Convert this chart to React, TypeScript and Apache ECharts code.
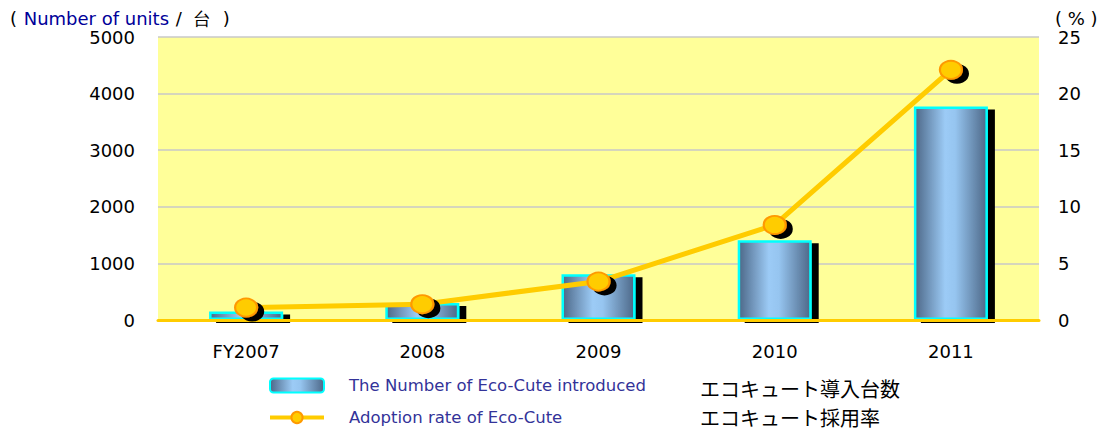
import React, { useEffect, useRef } from "react";
import * as echarts from "echarts";

const categories = ["FY2007", "2008", "2009", "2010", "2011"];
const unitsIntroduced = [150, 300, 810, 1410, 3770];
const adoptionRate = [1.1, 1.4, 3.4, 8.4, 22.1];
const leftTicks = { min: 0, max: 5000, interval: 1000 };
const rightTicks = { min: 0, max: 25, interval: 5 };
const barName = "The Number of Eco-Cute introduced";
const lineName = "Adoption rate of Eco-Cute";
const jpBarName = "エコキュート導入台数";
const jpLineName = "エコキュート採用率";

export default function App() {
  const ref = useRef<HTMLDivElement>(null);
  useEffect(() => {
    if (!ref.current) return;
    const chart = echarts.init(ref.current, null, { renderer: "svg" });
    const font = "DejaVu Sans, Arial, sans-serif";
    const barGrad = new echarts.graphic.LinearGradient(0, 0, 1, 0, [
      { offset: 0, color: "#4d6888" },
      { offset: 0.42, color: "#9ccbf6" },
      { offset: 0.56, color: "#96c5f0" },
      { offset: 1, color: "#4d6888" },
    ]);
    chart.setOption({
      animation: false,
      textStyle: { fontFamily: font },
      grid: {
        left: 158,
        right: 70,
        top: 37,
        bottom: 110,
        show: true,
        backgroundColor: "#FFFF99",
        borderWidth: 0,
      },
      legend: {
        orient: "vertical",
        left: 268,
        top: 377,
        padding: 0,
        itemGap: 15,
        itemWidth: 54,
        itemHeight: 14,
        data: [barName, lineName],
        itemStyle: { shadowBlur: 0, shadowOffsetX: 0, shadowOffsetY: 0, shadowColor: "rgba(0,0,0,0)" },
        lineStyle: { width: 4, color: "#FFCC00" },
        textStyle: {
          color: "#333399",
          fontSize: 16.5,
          fontFamily: font,
          padding: [0, 0, 0, 20],
        },
      },
      xAxis: {
        type: "category",
        data: categories,
        axisLine: { lineStyle: { color: "#FFCC00", width: 3 } },
        axisTick: { inside: true, length: 6, lineStyle: { color: "#FFCC00", width: 2 } },
        axisLabel: { color: "#000", fontSize: 18, margin: 22, fontFamily: font },
        z: 5,
      },
      yAxis: [
        {
          type: "value",
          min: leftTicks.min,
          max: leftTicks.max,
          interval: leftTicks.interval,
          axisLine: { show: false },
          axisTick: { show: false },
          splitLine: { lineStyle: { color: "#c8c8c8", width: 1.5 } },
          axisLabel: {
            color: "#000",
            fontSize: 18,
            margin: 23,
            fontFamily: font,
            formatter: (v: number) => String(v),
          },
        },
        {
          type: "value",
          min: rightTicks.min,
          max: rightTicks.max,
          interval: rightTicks.interval,
          axisLine: { show: false },
          axisTick: { show: false },
          splitLine: { show: false },
          axisLabel: { color: "#000", fontSize: 18, margin: 19, fontFamily: font },
        },
      ],
      series: [
        {
          name: barName,
          type: "bar",
          data: unitsIntroduced,
          barWidth: "42%",
          itemStyle: {
            color: barGrad,
            borderColor: "#00FFFF",
            borderWidth: 2.5,
            shadowColor: "#000",
            shadowBlur: 0,
            shadowOffsetX: 7,
            shadowOffsetY: 3,
          },
          z: 2,
        },
        {
          name: lineName,
          type: "line",
          yAxisIndex: 1,
          data: adoptionRate,
          symbol: "circle",
          symbolSize: [22, 18],
          lineStyle: { color: "#FFCC00", width: 5 },
          itemStyle: {
            color: "#FFCC00",
            borderColor: "#FF9900",
            borderWidth: 2,
            shadowColor: "#000",
            shadowBlur: 0,
            shadowOffsetX: 6,
            shadowOffsetY: 4,
          },
          z: 10,
        },
      ],
      graphic: [
        {
          type: "text",
          left: 10,
          top: 9,
          style: {
            text: "{b|(}  {n|Number of units}  {b|/  台  )}",
            rich: {
              b: { fill: "#000", fontSize: 18, fontFamily: font },
              n: { fill: "#000099", fontSize: 18, fontFamily: font },
            },
          },
        },
        {
          type: "text",
          left: 1055,
          top: 9,
          style: { text: "( % )", fill: "#000", fontSize: 18, fontFamily: font },
        },
        {
          type: "text",
          x: 700,
          y: 388,
          style: {
            text: jpBarName,
            fill: "#000",
            fontSize: 20,
            fontFamily: "Noto Sans CJK JP",
            verticalAlign: "middle",
          },
        },
        {
          type: "text",
          x: 700,
          y: 417,
          style: {
            text: jpLineName,
            fill: "#000",
            fontSize: 20,
            fontFamily: "Noto Sans CJK JP",
            verticalAlign: "middle",
          },
        },
      ],
    });
    return () => chart.dispose();
  }, []);
  return (
    <div
      ref={ref}
      style={{ position: "absolute", left: 0, top: 0, width: 1109, height: 430 }}
    />
  );
}
